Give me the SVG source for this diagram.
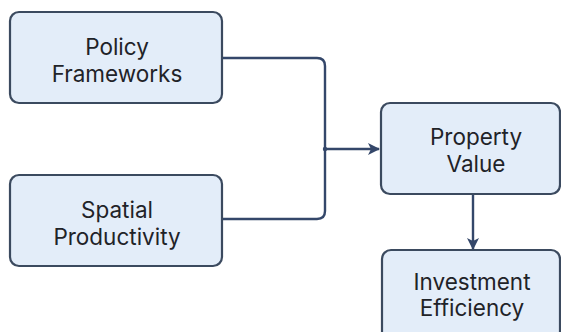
<svg xmlns="http://www.w3.org/2000/svg" width="561" height="332" viewBox="0 0 561 332">
<defs>
<style>
.box{fill:#e3edf9;stroke:#3b4a5f;stroke-width:2.2}
.lbl{font-family:Inter,"Liberation Sans",sans-serif;font-size:22.5px;fill:#1f2328;text-anchor:middle}
.conn{fill:none;stroke:#34476a;stroke-width:2.4}
</style>
<marker id="ah" viewBox="0 0 12 12" refX="11" refY="6" markerWidth="12" markerHeight="12" markerUnits="userSpaceOnUse" orient="auto">
<path d="M0,0 L12,6 L0,12 L3,6 Z" fill="#34476a"/>
</marker>
</defs>
<rect width="561" height="332" fill="#ffffff"/>
<g id="connectors">
<path class="conn" d="M222,58 H317 Q325,58 325,66 V211 Q325,219 317,219 H222"/>
<path class="conn" d="M325,149 H379" marker-end="url(#ah)"/>
<circle cx="325" cy="149" r="2.2" fill="#34476a"/>
<path class="conn" d="M473,195 V249" marker-end="url(#ah)"/>
</g>
<g id="policy">
<rect class="box" x="10" y="12" width="212" height="91" rx="9"/>
<text class="lbl" x="117" y="55">Policy</text>
<text class="lbl" x="117" y="82">Frameworks</text>
</g>
<g id="spatial">
<rect class="box" x="10" y="175" width="212" height="91" rx="9"/>
<text class="lbl" x="117" y="218">Spatial</text>
<text class="lbl" x="117" y="245">Productivity</text>
</g>
<g id="property">
<rect class="box" x="381" y="103" width="179" height="91" rx="9"/>
<text class="lbl" x="476" y="145">Property</text>
<text class="lbl" x="476" y="172">Value</text>
</g>
<g id="investment">
<rect class="box" x="382" y="250" width="178" height="90" rx="9"/>
<text class="lbl" x="472" y="290">Investment</text>
<text class="lbl" x="472" y="316">Efficiency</text>
</g>
</svg>
